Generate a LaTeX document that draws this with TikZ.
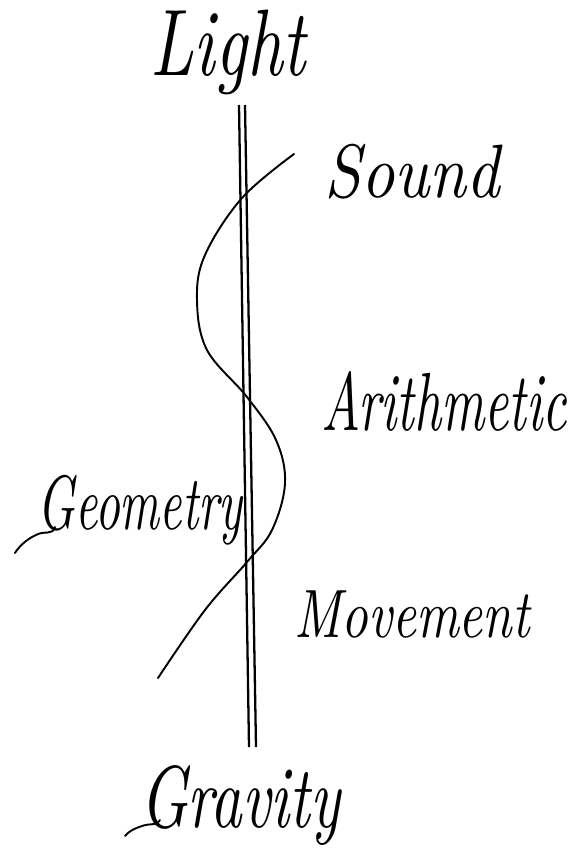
\documentclass[tikz,border=0pt]{standalone}
\usepackage{graphicx}
\usetikzlibrary{positioning}
\newcommand{\handword}[3]{\resizebox*{#1}{#2}{\itshape #3}}

\begin{document}
\begin{tikzpicture}[x=0.02cm, y=-0.02cm,
  word/.style={inner sep=0pt, anchor=center},
  pencil/.style={line width=1.1pt, line cap=round, line join=round, draw=black},
  rod/.style={line width=1.3pt, draw=black}
]
\useasboundingbox (0,0) rectangle (571,852);
% labels
\node[word] (light) at (228,52) {\handword{3.1cm}{1.7cm}{Light}};
\node[word] (sound) at (412,172) {\handword{3.5cm}{1.1cm}{Sound}};
\node[word] (arith) at (444,401) {\handword{4.9cm}{1.2cm}{Arithmetic}};
\node[word] (geom) at (140,510) {\handword{4.1cm}{1.4cm}{Geometry}};
\node[word] (move) at (412,614) {\handword{4.7cm}{0.95cm}{Movement}};
\node[word] (grav) at (240,806) {\handword{4.0cm}{1.6cm}{Gravity}};
% the double rod
\coordinate (rodAtop) at (239,105);
\coordinate (rodAbot) at (249,747);
\coordinate (rodBtop) at (245,105);
\coordinate (rodBbot) at (256,747);
\draw[rod] (rodAtop) -- (rodAbot);
\draw[rod] (rodBtop) -- (rodBbot);
% the wave
\draw[pencil] plot[smooth, tension=0.6] coordinates {(294,154) (242,198) (205,255) (197,300)
  (207,350) (247,397) (276,440) (285,483) (272,530) (247,562) (205,610) (158,678)};
% flourishes
\draw[pencil] (55,527) .. controls (52,536) and (45,530) .. (36,535) .. controls (25,540) and (18,548) .. (15,553);
\draw[pencil] (160,820) .. controls (158,826) and (150,823) .. (142,826) .. controls (133,829) and (128,832) .. (125,836);
\end{tikzpicture}
\end{document}
